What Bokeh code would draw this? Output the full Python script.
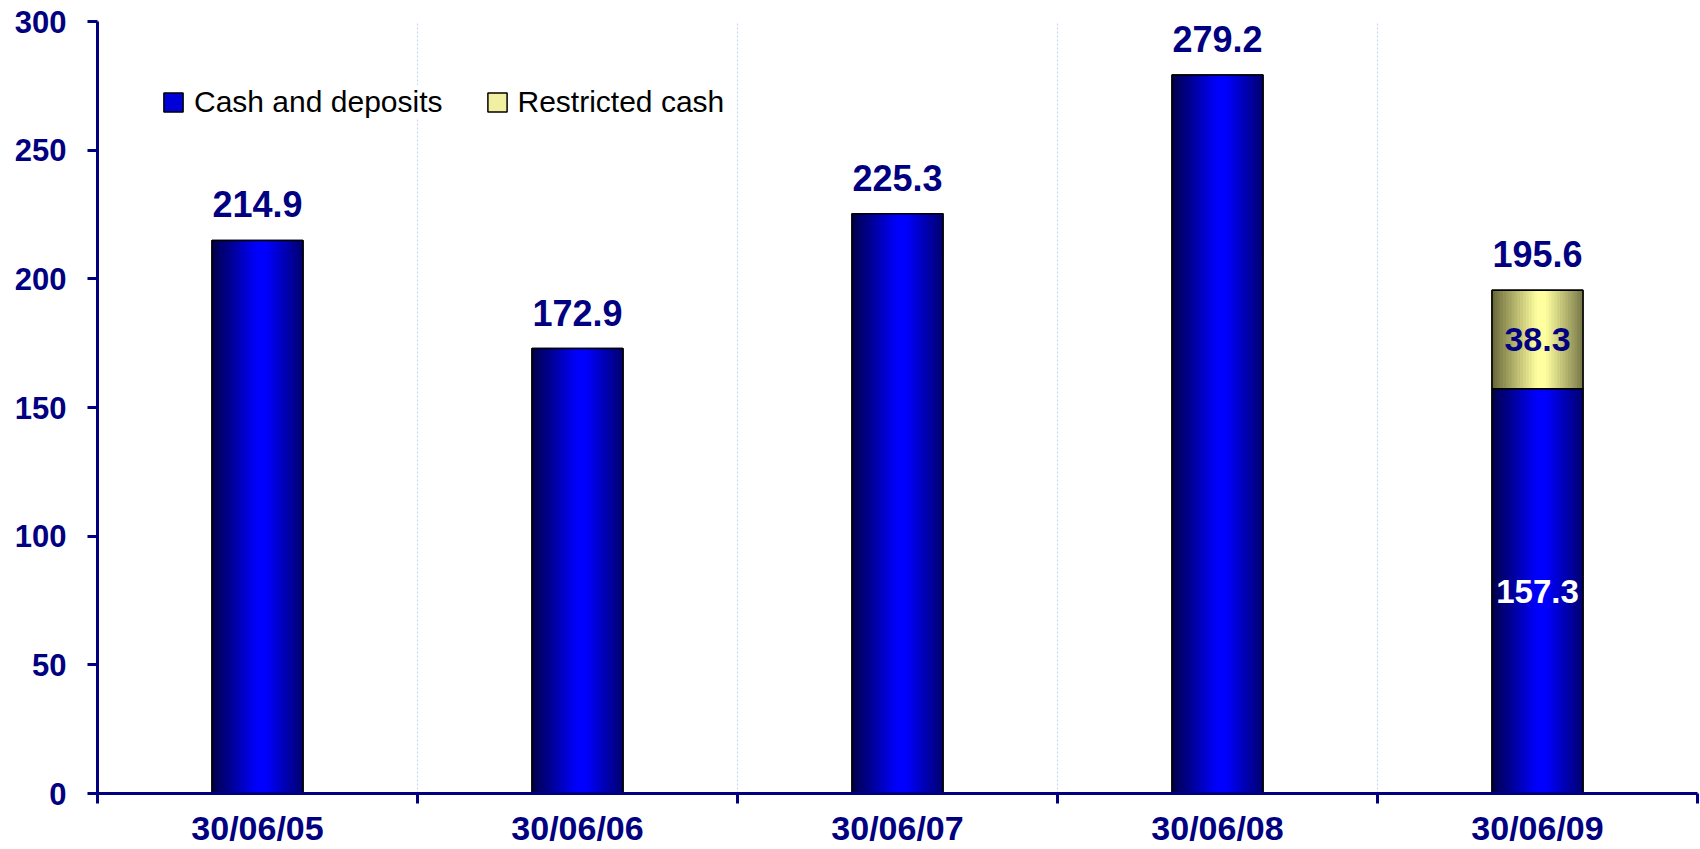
import numpy as np
from bokeh.plotting import figure
from bokeh.models import (ColumnDataSource, Range1d, FixedTicker,
                          CustomJSTickFormatter, Legend, LegendItem)
from bokeh.transform import dodge
from bokeh.core.properties import value
from bokeh.embed import file_html
from bokeh.resources import INLINE

# ---------------- data ----------------
categories = ["30/06/05", "30/06/06", "30/06/07", "30/06/08", "30/06/09"]
cash_and_deposits = [214.9, 172.9, 225.3, 279.2, 157.3]
restricted_cash = [0.0, 0.0, 0.0, 0.0, 38.3]
y_ticks = [0, 50, 100, 150, 200, 250, 300]
series_names = ["Cash and deposits", "Restricted cash"]

# ---------------- derived ----------------
n = len(categories)
xc = [i + 0.5 for i in range(n)]
totals = [round(a + b, 1) for a, b in zip(cash_and_deposits, restricted_cash)]
src = ColumnDataSource(dict(
    x=xc, cash=cash_and_deposits, total=totals,
    label=[f"{t:.1f}" for t in totals]))
idx_r = [i for i in range(n) if restricted_cash[i] > 0]
src_r = ColumnDataSource(dict(
    x=[xc[i] for i in idx_r],
    cash=[cash_and_deposits[i] for i in idx_r],
    total=[totals[i] for i in idx_r],
    mid_c=[cash_and_deposits[i] / 2 for i in idx_r],
    mid_r=[cash_and_deposits[i] + restricted_cash[i] / 2 for i in idx_r],
    lab_c=[f"{cash_and_deposits[i]:.1f}" for i in idx_r],
    lab_r=[f"{restricted_cash[i]:.1f}" for i in idx_r],
))

NAVY = "#000080"
FONT = value("Liberation Sans")
W = 0.284
N = 32

p = figure(width=1700, height=849, x_range=Range1d(0, n), y_range=Range1d(0, 300),
           output_backend="svg", toolbar_location=None,
           min_border_left=97, min_border_right=3, min_border_top=21, min_border_bottom=0)
p.outline_line_color = None
p.background_fill_color = "white"
p.border_fill_color = "white"


def grad(t, lo_l, lo_r, hi, peak=0.55):
    if t < peak:
        s = t / peak
        lo = lo_l
    else:
        s = (1 - t) / (1 - peak)
        lo = lo_r
    s = min(1.0, s * 1.1)
    c = [int(round(a + (b - a) * s)) for a, b in zip(lo, hi)]
    return "#%02x%02x%02x" % tuple(c)


# base renderers (used for legend)
base_b = p.vbar(x='x', top='cash', width=W, source=src, fill_color="#0000d8",
                line_color="black", line_width=1.5)
base_y = p.vbar(x='x', bottom='cash', top='total', width=W, source=src_r,
                fill_color="#f0f0a0", line_color="black", line_width=1.5)

# gradient strips
for k in range(N):
    off = -W / 2 + (k + 0.5) * W / N
    t = (k + 0.5) / N
    p.vbar(x=dodge('x', off), top='cash', bottom=0, width=W / N * 1.2, source=src,
           fill_color=grad(t, (0, 0, 0x48), (0, 0, 0x70), (0, 0, 0xFF)), line_color=None)
    p.vbar(x=dodge('x', off), top='total', bottom='cash', width=W / N * 1.2, source=src_r,
           fill_color=grad(t, (0x66, 0x66, 0x38), (0x78, 0x78, 0x48), (0xFF, 0xFF, 0xA0)),
           line_color=None)

# outlines
p.vbar(x='x', top='cash', width=W, source=src, fill_color=None,
       line_color="black", line_width=1.5)
p.vbar(x='x', bottom='cash', top='total', width=W, source=src_r, fill_color=None,
       line_color="black", line_width=1.5)

# labels
p.text(x='x', y='total', text='label', source=src, text_align="center",
       text_baseline="alphabetic", y_offset=-36, text_font=FONT,
       text_font_style="bold", text_font_size="36px", text_color=NAVY)
p.text(x='x', y='mid_c', text='lab_c', source=src_r, text_align="center",
       text_baseline="middle", text_font=FONT, text_font_style="bold",
       text_font_size="33px", text_color="white")
p.text(x='x', y='mid_r', text='lab_r', source=src_r, text_align="center",
       text_baseline="middle", text_font=FONT, text_font_style="bold",
       text_font_size="34px", text_color=NAVY)

# x axis
xa = p.xaxis[0]
xa.ticker = FixedTicker(ticks=xc, minor_ticks=list(range(n + 1)))
xa.formatter = CustomJSTickFormatter(
    args=dict(labels=categories),
    code="const i = Math.floor(tick); return (i >= 0 && i < labels.length) ? labels[i] : '';")
xa.major_tick_line_color = None
xa.major_tick_out = 0
xa.major_tick_in = 0
xa.minor_tick_out = 10
xa.minor_tick_in = 0
xa.minor_tick_line_color = NAVY
xa.minor_tick_line_width = 3
xa.axis_line_color = NAVY
xa.axis_line_width = 3
xa.major_label_text_font = "Liberation Sans"
xa.major_label_text_font_style = "bold"
xa.major_label_text_font_size = "34px"
xa.major_label_text_color = NAVY
xa.major_label_standoff = 5

# y axis
ya = p.yaxis[0]
ya.ticker = FixedTicker(ticks=y_ticks)
ya.minor_tick_line_color = None
ya.major_tick_out = 10
ya.major_tick_in = 0
ya.major_tick_line_color = NAVY
ya.major_tick_line_width = 3
ya.axis_line_color = NAVY
ya.axis_line_width = 3
ya.major_label_text_font = "Liberation Sans"
ya.major_label_text_font_style = "bold"
ya.major_label_text_font_size = "31px"
ya.major_label_text_color = NAVY
ya.major_label_standoff = 21

# grid
p.ygrid.visible = False
p.xgrid.ticker = FixedTicker(ticks=list(range(1, n + 1)))
p.xgrid.grid_line_color = "#bcd4f0"
p.xgrid.grid_line_dash = "2 2"
p.xgrid.grid_line_width = 1

# legend
legend = Legend(items=[LegendItem(label=series_names[0], renderers=[base_b]),
                       LegendItem(label=series_names[1], renderers=[base_y])],
                location="top_left", orientation="horizontal", margin=64, padding=12,
                spacing=42, glyph_width=24, glyph_height=24, label_standoff=9,
                label_text_font="Liberation Sans", label_text_font_size="30px",
                label_text_color="black", background_fill_color="white",
                background_fill_alpha=1.0, border_line_color=None)
p.add_layout(legend)

open("out.html", "w").write(file_html(p, INLINE))
